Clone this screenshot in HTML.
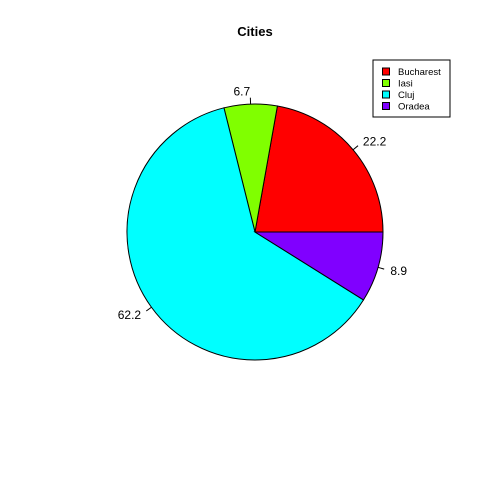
<!DOCTYPE html>
<html><head><meta charset="utf-8"><style>body{margin:0;background:#fff}svg{display:block}text{font-family:"Liberation Sans",Arial,sans-serif}</style></head>
<body>
<svg id="chart" width="480" height="480" xmlns="http://www.w3.org/2000/svg">
<rect width="480" height="480" fill="#fff"/>
<text x="255" y="36" text-anchor="middle" font-size="13" font-weight="bold">Cities</text>
<g id="slices"></g>
<g id="legend"></g>
</svg>
<script>
const categories = ["Bucharest", "Iasi", "Cluj", "Oradea"];
const values = [22.2, 6.7, 62.2, 8.9];
const labels = ["22.2", "6.7", "62.2", "8.9"];
const colors = ["#ff0000", "#80ff00", "#00ffff", "#8000ff"];
const NS = "http://www.w3.org/2000/svg";
const cx = 255, cy = 232, r = 128;
const total = values.reduce((a, b) => a + b, 0);
const sg = document.getElementById('slices');
function pt(a, rr) { return [cx + rr * Math.cos(a), cy - rr * Math.sin(a)]; }
let start = 0;
values.forEach((v, i) => {
  const sweep = v / total * 2 * Math.PI;
  const end = start + sweep;
  const p0 = pt(start, r), p1 = pt(end, r);
  const large = sweep > Math.PI ? 1 : 0;
  const path = document.createElementNS(NS, 'path');
  path.setAttribute('d', `M${cx},${cy} L${p0[0]},${p0[1]} A${r},${r} 0 ${large} 0 ${p1[0]},${p1[1]} Z`);
  path.setAttribute('fill', colors[i]);
  path.setAttribute('stroke', '#000');
  path.setAttribute('stroke-width', '1');
  
  
  sg.appendChild(path);
  const mid = (start + end) / 2;
  const a = pt(mid, r), b = pt(mid, r * 1.05), t = pt(mid, r * 1.1);
  const ln = document.createElementNS(NS, 'line');
  ln.setAttribute('x1', a[0]); ln.setAttribute('y1', a[1]);
  ln.setAttribute('x2', b[0]); ln.setAttribute('y2', b[1]);
  ln.setAttribute('stroke', '#000');
  
  
  sg.appendChild(ln);
  const tx = document.createElementNS(NS, 'text');
  tx.setAttribute('x', t[0]); tx.setAttribute('y', t[1] + 4);
  tx.setAttribute('font-size', '12');
  tx.setAttribute('text-anchor', Math.cos(mid) >= 0 ? 'start' : 'end');
  tx.textContent = labels[i];
  
  
  sg.appendChild(tx);
  start = end;
});
const lg = document.getElementById('legend');
const box = document.createElementNS(NS, 'rect');
box.setAttribute('x', 373); box.setAttribute('y', 60);
box.setAttribute('width', 77); box.setAttribute('height', 57);
box.setAttribute('fill', '#fff'); box.setAttribute('stroke', '#000');


lg.appendChild(box);
categories.forEach((c, i) => {
  const y = 71.5 + i * 11.5;
  const sq = document.createElementNS(NS, 'rect');
  sq.setAttribute('x', 382.5); sq.setAttribute('y', y - 3.5);
  sq.setAttribute('width', 7); sq.setAttribute('height', 7);
  sq.setAttribute('fill', colors[i]); sq.setAttribute('stroke', '#000');
  
  
  lg.appendChild(sq);
  const t = document.createElementNS(NS, 'text');
  t.setAttribute('x', 398); t.setAttribute('y', y + 3.5);
  t.setAttribute('font-size', '9.5');
  t.textContent = c;
  
  
  lg.appendChild(t);
});
</script>
</body></html>
